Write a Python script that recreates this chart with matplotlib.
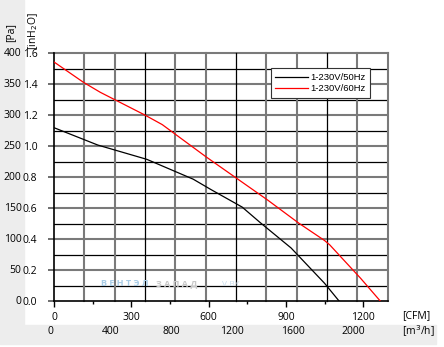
import numpy as np
import matplotlib
matplotlib.use('Agg')
import matplotlib.pyplot as plt
from matplotlib.patches import Rectangle
from matplotlib.transforms import blended_transform_factory, ScaledTranslation

# ---- data (CFM, Pa) ----
cfm_50 = [0, 170, 360, 540, 610, 730, 800, 920, 1050, 1107]
pa_50 = [280, 252, 229, 197, 180, 152, 127, 86, 29, 0]

cfm_60 = [0, 115, 180, 350, 420, 590, 710, 830, 950, 1050, 1070, 1190, 1267]
pa_60 = [386, 353, 337, 301, 285, 233, 198, 163, 126, 98, 91, 37, 0]

series_names = ['1-230V/50Hz', '1-230V/60Hz']
series_colors = ['#000000', '#ff0000']

pa_ticks = [0, 50, 100, 150, 200, 250, 300, 350, 400]
inh2o_labels = ['0.0', '0.2', '0.4', '0.6', '0.8', '1.0', '1.2', '1.4', '1.6']
cfm_ticks = [0, 300, 600, 900, 1200]
m3h_ticks = [0, 400, 800, 1200, 1600, 2000]

M3H_PER_CFM = 1.699
x_max = 2200 / M3H_PER_CFM

W, H = 444, 347
fig = plt.figure(figsize=(W / 100, H / 100), dpi=100)
plt.rcParams['font.family'] = ['Open Sans', 'DejaVu Sans']

def px(x, y):
    # pixel (from top-left) -> figure coords
    return x / W, 1 - y / H

# grey side/bottom panels
grey = '#ededed'
fig.patches.append(Rectangle((0, 1 - 325 / H), 24 / W, 325 / H,
                             transform=fig.transFigure, color=grey, zorder=-5))
fig.patches.append(Rectangle((0, 1 - 344 / H), 436 / W, 19 / H,
                             transform=fig.transFigure, color=grey, zorder=-5))

l, b = px(54, 301.3)
r, t = px(387.7, 53.3)
ax = fig.add_axes([l, b, r - l, t - b])
ax.set_xlim(0, x_max)
ax.set_ylim(0, 400)
ax.patch.set_alpha(0)

# grid: horizontal, grey every 50 Pa, black in between
for p in np.arange(25, 400, 25):
    if p % 50 == 0:
        ax.axhline(p, color='#7a7a7a', lw=1.5, zorder=1)
    else:
        ax.axhline(p, color='#000000', lw=0.9, zorder=1)
ax.axhline(400, color='#7a7a7a', lw=1.5, zorder=1, clip_on=False)
# grid: vertical, every 200 m3/h
for m in range(200, 2201, 200):
    c = '#000000' if m % 600 == 0 else '#7a7a7a'
    w = 0.9 if m % 600 == 0 else 1.5
    ax.axvline(m / M3H_PER_CFM, color=c, lw=w, zorder=1, clip_on=False)

for sp in ['top', 'right']:
    ax.spines[sp].set_visible(False)
ax.spines['left'].set_linewidth(1.2)
ax.spines['bottom'].set_linewidth(1.2)

ax.plot(cfm_50, pa_50, color=series_colors[0], lw=0.9, zorder=3, label=series_names[0])
ax.plot(cfm_60, pa_60, color=series_colors[1], lw=0.9, zorder=3, label=series_names[1])

# ticks
ax.set_xticks(cfm_ticks)
ax.set_xticks(np.arange(150, 1300, 300), minor=True)
ax.tick_params(axis='x', which='major', length=4, width=1, pad=4, labelsize=7.5)
ax.tick_params(axis='x', which='minor', length=2, width=1)
ax.set_yticks(pa_ticks)
ax.set_yticklabels(inh2o_labels)
ax.tick_params(axis='y', which='major', length=4, width=1.2, color='#555555',
               pad=8, labelsize=7.5)

# Pa scale labels
tr_y = blended_transform_factory(fig.transFigure, ax.transData)
for p in pa_ticks:
    fig.text(21.5 / W, p, str(p), transform=tr_y, ha='right', va='center',
             fontsize=7.5)

# m3/h scale labels
tr_x = blended_transform_factory(ax.transData, fig.transFigure) + \
    ScaledTranslation(-4 / 100, 0, fig.dpi_scale_trans)
for m in m3h_ticks:
    fig.text(m / M3H_PER_CFM, 1 - 332 / H, str(m), transform=tr_x,
             ha='center', va='center', fontsize=7.5)

# unit labels
fig.text(*px(11, 33), '[Pa]', rotation=90, ha='center', va='center', fontsize=7.5)
fig.text(*px(33.5, 31), '[inH$_2$O]', rotation=90, ha='center', va='center', fontsize=7.5)
fig.text(*px(416, 316), '[CFM]', ha='center', va='center', fontsize=7.5)
fig.text(*px(418, 331), '[m$^3$/h]', ha='center', va='center', fontsize=7.5)

# watermark
fig.text(*px(101, 284), 'В Е Н Т Э Л', color='#a8cce6', fontsize=6.5,
         va='center', fontweight='bold')
fig.text(*px(156, 284), 'З А П А Д', color='#c8c8c8', fontsize=6.5,
         va='center', fontweight='bold')
fig.text(*px(222, 284), 'V.BY', color='#c8dcec', fontsize=6, va='center')

leg = ax.legend(loc='upper left', bbox_to_anchor=((270.7 - 54) / 333.7, (301.3 - 68.3) / 248),
                prop={'family': 'Liberation Sans', 'size': 6.8}, frameon=True,
                fancybox=False, edgecolor='#333333', framealpha=1,
                handlelength=3.5, handletextpad=0.2, borderpad=0.5,
                labelspacing=0.2, borderaxespad=0)
leg.get_frame().set_linewidth(0.8)
leg.set_zorder(5)

fig.savefig('out.png', dpi=100)
